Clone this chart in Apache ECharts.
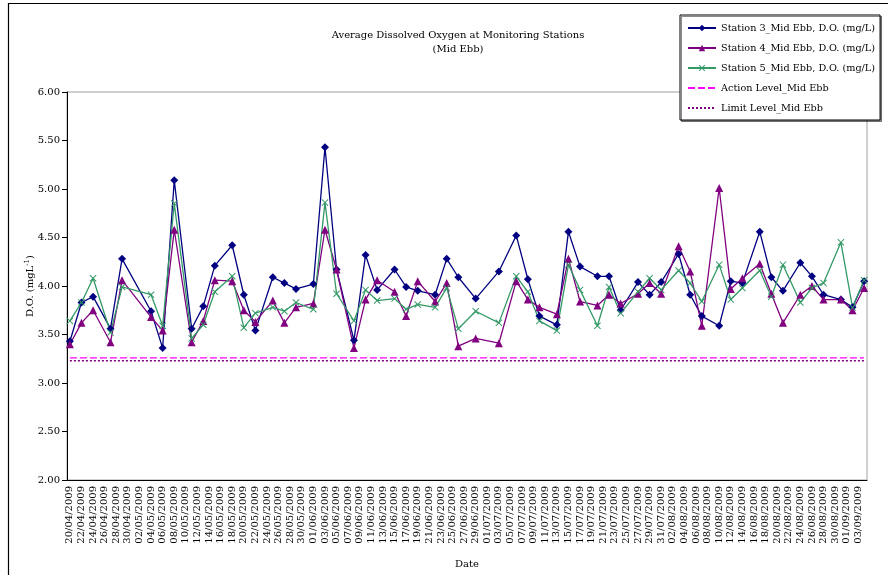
<!DOCTYPE html>
<html>
<head>
<meta charset="utf-8">
<script src="https://cdn.jsdelivr.net/npm/echarts@6/dist/echarts.min.js"></script>
<style>
  html, body { margin: 0; padding: 0; background: #fff; }
  #chart { width: 888px; height: 575px; }
</style>
</head>
<body>
<div id="chart"></div>
<script>
// Sampling dates (Mon / Wed / Fri surveys, mid-ebb tide)
const sampleDates = [
  '20/04/2009','22/04/2009','24/04/2009','27/04/2009','29/04/2009',
  '04/05/2009','06/05/2009','08/05/2009','11/05/2009','13/05/2009','15/05/2009','18/05/2009',
  '20/05/2009','22/05/2009','25/05/2009','27/05/2009','29/05/2009',
  '01/06/2009','03/06/2009','05/06/2009','08/06/2009','10/06/2009','12/06/2009','15/06/2009',
  '17/06/2009','19/06/2009','22/06/2009','24/06/2009','26/06/2009','29/06/2009',
  '03/07/2009','06/07/2009','08/07/2009','10/07/2009','13/07/2009','15/07/2009','17/07/2009',
  '20/07/2009','22/07/2009','24/07/2009','27/07/2009','29/07/2009','31/07/2009',
  '03/08/2009','05/08/2009','07/08/2009','10/08/2009','12/08/2009','14/08/2009','17/08/2009',
  '19/08/2009','21/08/2009','24/08/2009','26/08/2009','28/08/2009','31/08/2009',
  '02/09/2009','04/09/2009'
];

// Average dissolved oxygen, mg/L
const station3 = [
  3.43, 3.83, 3.89, 3.56, 4.28,
  3.74, 3.36, 5.09, 3.56, 3.79, 4.21, 4.42,
  3.91, 3.54, 4.09, 4.03, 3.97,
  4.02, 5.43, 4.17, 3.44, 4.32, 3.96, 4.17,
  3.99, 3.95, 3.91, 4.28, 4.09, 3.87,
  4.15, 4.52, 4.07, 3.69, 3.60, 4.56, 4.20,
  4.10, 4.10, 3.75, 4.04, 3.91, 4.04,
  4.33, 3.91, 3.69, 3.59, 4.05, 4.03, 4.56,
  4.09, 3.95, 4.24, 4.10, 3.91, 3.86,
  3.78, 4.05
];
const station4 = [
  3.40, 3.62, 3.75, 3.42, 4.06,
  3.68, 3.54, 4.58, 3.42, 3.64, 4.06, 4.05,
  3.75, 3.63, 3.85, 3.62, 3.78,
  3.82, 4.58, 4.17, 3.36, 3.86, 4.06, 3.94,
  3.69, 4.05, 3.84, 4.03, 3.38, 3.46,
  3.41, 4.05, 3.86, 3.78, 3.71, 4.28, 3.84,
  3.80, 3.91, 3.82, 3.92, 4.03, 3.92,
  4.41, 4.15, 3.59, 5.01, 3.97, 4.08, 4.23,
  3.92, 3.62, 3.91, 4.00, 3.86, 3.86,
  3.75, 3.98
];
const station5 = [
  3.64, 3.83, 4.08, 3.52, 3.99,
  3.91, 3.59, 4.85, 3.46, 3.60, 3.94, 4.10,
  3.57, 3.72, 3.78, 3.74, 3.83,
  3.76, 4.86, 3.92, 3.64, 3.96, 3.85, 3.87,
  3.76, 3.81, 3.78, 3.98, 3.56, 3.74,
  3.62, 4.10, 3.94, 3.64, 3.54, 4.22, 3.96,
  3.59, 3.99, 3.72, 3.94, 4.08, 3.96,
  4.16, 4.03, 3.84, 4.22, 3.86, 3.98, 4.16,
  3.89, 4.22, 3.83, 3.98, 4.03, 4.45,
  3.78, 4.06
];

// Compliance levels, mg/L
const actionLevel = 3.26;
const limitLevel = 3.23;

// Value axis range
const yMin = 2, yMax = 6, yStep = 0.5;

const seriesNames = [
  'Station 3_Mid Ebb, D.O. (mg/L)',
  'Station 4_Mid Ebb, D.O. (mg/L)',
  'Station 5_Mid Ebb, D.O. (mg/L)',
  'Action Level_Mid Ebb',
  'Limit Level_Mid Ebb'
];

// Daily date axis spanning the survey period
function parseDMY(s) { const [d, m, y] = s.split('/').map(Number); return new Date(Date.UTC(y, m - 1, d)); }
function fmtDMY(t) {
  const d = String(t.getUTCDate()).padStart(2, '0');
  const m = String(t.getUTCMonth() + 1).padStart(2, '0');
  return d + '/' + m + '/' + t.getUTCFullYear();
}
const dayAxis = [];
const endDay = parseDMY(sampleDates[sampleDates.length - 1]);
for (let t = parseDMY(sampleDates[0]); t <= endDay; t = new Date(t.getTime() + 86400000)) {
  dayAxis.push(fmtDMY(t));
}

const pairs = vals => sampleDates.map((d, i) => [d, vals[i]]);
const levelPairs = v => [[dayAxis[0], v], [dayAxis[dayAxis.length - 1], v]];

const FONT = 'DejaVu Serif';
const xMark = 'path://M1,0 L5,4 L9,0 L10,1 L6,5 L10,9 L9,10 L5,6 L1,10 L0,9 L4,5 L0,1 Z';

const chart = echarts.init(document.getElementById('chart'), null, { renderer: 'canvas' });
chart.setOption({
  animation: false,
  backgroundColor: '#fff',
  title: {
    text: 'Average Dissolved Oxygen at Monitoring Stations\n(Mid Ebb)',
    left: 453, top: 23, textAlign: 'center',
    textStyle: { fontFamily: FONT, fontSize: 10, fontWeight: 'normal', color: '#000', lineHeight: 14 }
  },
  graphic: [{
    type: 'rect', silent: true, z: -10,
    shape: { x: 8.5, y: 3.5, width: 1000, height: 1000 },
    style: { fill: 'none', stroke: '#000', lineWidth: 1.2 }
  }],
  legend: {
    orient: 'vertical', left: 680, top: 15,
    padding: [6, 5, 5, 7], itemGap: 6, itemWidth: 28, itemHeight: 8,
    backgroundColor: '#fff', borderColor: '#000', borderWidth: 1,
    shadowColor: 'rgba(0,0,0,0.45)', shadowOffsetX: 1.5, shadowOffsetY: 1.5, shadowBlur: 0,
    textStyle: { fontFamily: FONT, fontSize: 9.7, color: '#000', lineHeight: 14 },
    data: [
      seriesNames[0], seriesNames[1], seriesNames[2],
      { name: seriesNames[3], itemStyle: { opacity: 0 } },
      { name: seriesNames[4], itemStyle: { opacity: 0 } }
    ]
  },
  grid: {
    left: 67, right: 21, top: 92, bottom: 95,
    show: true, borderColor: '#a0a0a0', borderWidth: 1
  },
  xAxis: {
    type: 'category', data: dayAxis, boundaryGap: true,
    name: 'Date', nameLocation: 'middle', nameGap: 79,
    nameTextStyle: { fontFamily: FONT, fontSize: 10, color: '#000' },
    axisLine: { lineStyle: { color: '#000', width: 1 } },
    axisTick: { interval: 1, alignWithLabel: true, length: 4, lineStyle: { color: '#000' } },
    axisLabel: { interval: 1, rotate: 90, margin: 6, fontFamily: FONT, fontSize: 10, color: '#000' },
    splitLine: { show: false }
  },
  yAxis: {
    type: 'value', min: yMin, max: yMax, interval: yStep,
    name: '{t|D.O. (mgL}{s|-1}{t|)}', nameLocation: 'middle', nameGap: 30, nameRotate: 90,
    nameMoveOverlap: false,
    nameTextStyle: {
      rich: {
        t: { fontFamily: FONT, fontSize: 10, color: '#000' },
        s: { fontFamily: FONT, fontSize: 7, color: '#000', verticalAlign: 'top', padding: [0, 0, 6, 0] }
      }
    },
    axisLine: { show: true, lineStyle: { color: '#000', width: 1 } },
    axisTick: { show: true, length: 5, lineStyle: { color: '#000' } },
    axisLabel: { formatter: v => v.toFixed(2), margin: 7, fontFamily: FONT, fontSize: 10, color: '#000' },
    splitLine: { show: false }
  },
  series: [
    {
      name: seriesNames[0], type: 'line', data: pairs(station3), showAllSymbol: true,
      symbol: 'diamond', symbolSize: 8, color: '#000080',
      lineStyle: { width: 1.3, color: '#000080' }, itemStyle: { color: '#000080' }
    },
    {
      name: seriesNames[1], type: 'line', data: pairs(station4), showAllSymbol: true,
      symbol: 'triangle', symbolSize: 8, color: '#800080',
      lineStyle: { width: 1.3, color: '#800080' }, itemStyle: { color: '#800080' }
    },
    {
      name: seriesNames[2], type: 'line', data: pairs(station5), showAllSymbol: true,
      symbol: xMark, symbolSize: 7, color: '#339966',
      lineStyle: { width: 1.3, color: '#339966' }, itemStyle: { color: '#339966' }
    },
    {
      name: seriesNames[3], type: 'line', data: levelPairs(actionLevel),
      symbol: 'none', color: '#ff00ff',
      lineStyle: { width: 1.3, color: '#ff00ff', type: [7, 3] }
    },
    {
      name: seriesNames[4], type: 'line', data: levelPairs(limitLevel),
      symbol: 'none', color: '#800080',
      lineStyle: { width: 1.5, color: '#800080', type: [2, 2] }
    }
  ]
});
</script>
</body>
</html>
